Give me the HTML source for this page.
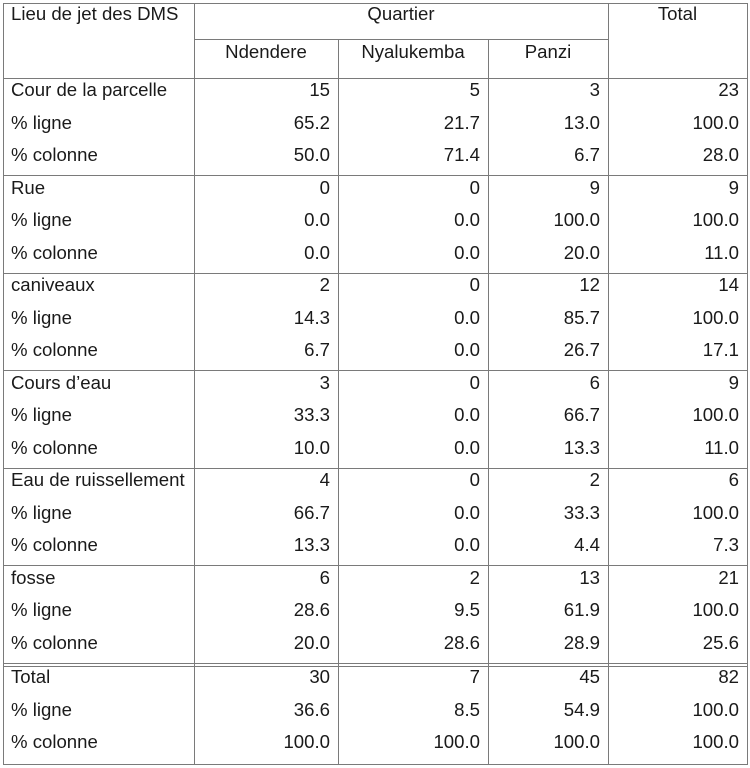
<!DOCTYPE html>
<html><head><meta charset="utf-8"><style>
body{margin:0;width:750px;height:768px;background:#fff;position:relative;overflow:hidden;font-family:"Liberation Sans",Arial,sans-serif;font-size:18.6px;color:#1a1a1a}
.h,.v{position:absolute;background:#7a7a7a}
.h{height:1px}.v{width:1px}
.t{position:absolute;white-space:nowrap;line-height:20px}
.g{position:absolute;left:0;width:750px}
.r{position:relative;height:32.5px;line-height:32.5px}
.r span{position:absolute;white-space:nowrap}
.r span.l{left:11px}
.r span.a{right:420px}.r span.b{right:270px}.r span.c{right:150px}.r span.d{right:11px}
</style></head><body>
<div class="h" style="left:3px;width:745px;top:3px"></div>
<div class="h" style="left:194px;width:414px;top:39px"></div>
<div class="h" style="left:3px;width:745px;top:78px"></div>
<div class="h" style="left:3px;width:745px;top:175px"></div>
<div class="h" style="left:3px;width:745px;top:273px"></div>
<div class="h" style="left:3px;width:745px;top:370px"></div>
<div class="h" style="left:3px;width:745px;top:468px"></div>
<div class="h" style="left:3px;width:745px;top:565px"></div>
<div class="h" style="left:3px;width:745px;top:663px"></div>
<div class="h" style="left:3px;width:745px;top:666px"></div>
<div class="h" style="left:3px;width:745px;top:764px"></div>
<div class="v" style="left:3px;top:3px;height:762px"></div>
<div class="v" style="left:194px;top:3px;height:762px"></div>
<div class="v" style="left:338px;top:39px;height:726px"></div>
<div class="v" style="left:488px;top:39px;height:726px"></div>
<div class="v" style="left:608px;top:3px;height:762px"></div>
<div class="v" style="left:747px;top:3px;height:762px"></div>
<div class="t" style="left:11px;top:4px">Lieu de jet des DMS</div>
<div class="t" style="left:194px;width:414px;text-align:center;top:4px">Quartier</div>
<div class="t" style="left:608px;width:139px;text-align:center;top:4px">Total</div>
<div class="t" style="left:194px;width:144px;text-align:center;top:42px">Ndendere</div>
<div class="t" style="left:338px;width:150px;text-align:center;top:42px">Nyalukemba</div>
<div class="t" style="left:488px;width:120px;text-align:center;top:42px">Panzi</div>

<div class="g" style="top:74px">
<div class="r"><span class="l">Cour de la parcelle</span><span class="a">15</span><span class="b">5</span><span class="c">3</span><span class="d">23</span></div>
<div class="r"><span class="l">% ligne</span><span class="a">65.2</span><span class="b">21.7</span><span class="c">13.0</span><span class="d">100.0</span></div>
<div class="r"><span class="l">% colonne</span><span class="a">50.0</span><span class="b">71.4</span><span class="c">6.7</span><span class="d">28.0</span></div>
</div>
<div class="g" style="top:171.5px">
<div class="r"><span class="l">Rue</span><span class="a">0</span><span class="b">0</span><span class="c">9</span><span class="d">9</span></div>
<div class="r"><span class="l">% ligne</span><span class="a">0.0</span><span class="b">0.0</span><span class="c">100.0</span><span class="d">100.0</span></div>
<div class="r"><span class="l">% colonne</span><span class="a">0.0</span><span class="b">0.0</span><span class="c">20.0</span><span class="d">11.0</span></div>
</div>
<div class="g" style="top:269px">
<div class="r"><span class="l">caniveaux</span><span class="a">2</span><span class="b">0</span><span class="c">12</span><span class="d">14</span></div>
<div class="r"><span class="l">% ligne</span><span class="a">14.3</span><span class="b">0.0</span><span class="c">85.7</span><span class="d">100.0</span></div>
<div class="r"><span class="l">% colonne</span><span class="a">6.7</span><span class="b">0.0</span><span class="c">26.7</span><span class="d">17.1</span></div>
</div>
<div class="g" style="top:366.5px">
<div class="r"><span class="l">Cours d’eau</span><span class="a">3</span><span class="b">0</span><span class="c">6</span><span class="d">9</span></div>
<div class="r"><span class="l">% ligne</span><span class="a">33.3</span><span class="b">0.0</span><span class="c">66.7</span><span class="d">100.0</span></div>
<div class="r"><span class="l">% colonne</span><span class="a">10.0</span><span class="b">0.0</span><span class="c">13.3</span><span class="d">11.0</span></div>
</div>
<div class="g" style="top:464px">
<div class="r"><span class="l">Eau de ruissellement</span><span class="a">4</span><span class="b">0</span><span class="c">2</span><span class="d">6</span></div>
<div class="r"><span class="l">% ligne</span><span class="a">66.7</span><span class="b">0.0</span><span class="c">33.3</span><span class="d">100.0</span></div>
<div class="r"><span class="l">% colonne</span><span class="a">13.3</span><span class="b">0.0</span><span class="c">4.4</span><span class="d">7.3</span></div>
</div>
<div class="g" style="top:561.5px">
<div class="r"><span class="l">fosse</span><span class="a">6</span><span class="b">2</span><span class="c">13</span><span class="d">21</span></div>
<div class="r"><span class="l">% ligne</span><span class="a">28.6</span><span class="b">9.5</span><span class="c">61.9</span><span class="d">100.0</span></div>
<div class="r"><span class="l">% colonne</span><span class="a">20.0</span><span class="b">28.6</span><span class="c">28.9</span><span class="d">25.6</span></div>
</div>
<div class="g" style="top:661px">
<div class="r"><span class="l">Total</span><span class="a">30</span><span class="b">7</span><span class="c">45</span><span class="d">82</span></div>
<div class="r"><span class="l">% ligne</span><span class="a">36.6</span><span class="b">8.5</span><span class="c">54.9</span><span class="d">100.0</span></div>
<div class="r"><span class="l">% colonne</span><span class="a">100.0</span><span class="b">100.0</span><span class="c">100.0</span><span class="d">100.0</span></div>
</div>
</body></html>
